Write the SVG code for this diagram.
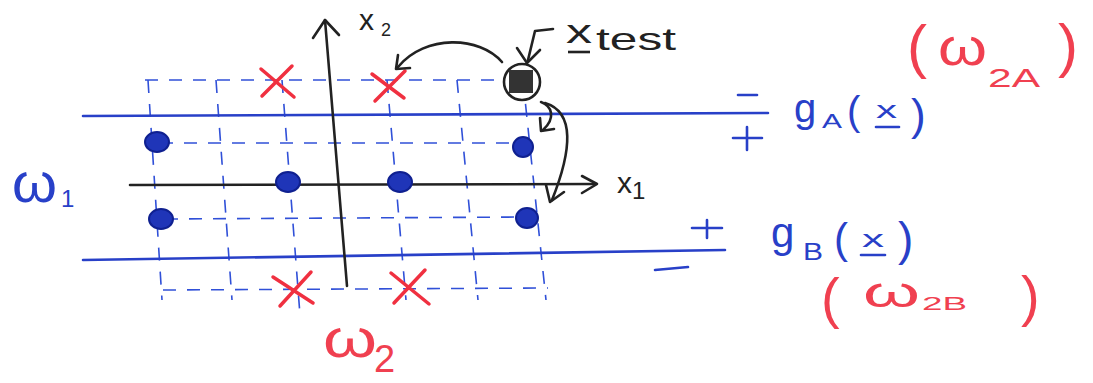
<svg xmlns="http://www.w3.org/2000/svg" width="1093" height="383" viewBox="0 0 1093 383">
<style>
.grid{stroke:#3050d8;stroke-width:1.6;stroke-dasharray:13 11;fill:none}
.bl{stroke:#2840c8;stroke-width:2.6;fill:none;stroke-linecap:round}
.ax{stroke:#222;stroke-width:2.6;fill:none;stroke-linecap:round;stroke-linejoin:round}
.dot{fill:#1f35b8;stroke:#0f2090;stroke-width:2}
.x{stroke:#f03040;stroke-width:3.5;stroke-linecap:round}
.tb{font-family:"Liberation Sans",Arial,sans-serif;fill:#2840c8}
.tr{font-family:"Liberation Sans",Arial,sans-serif;fill:#f04050}
.tk{font-family:"Liberation Sans",Arial,sans-serif;fill:#222}
</style>
<rect width="1093" height="383" fill="#ffffff"/>
<g id="grid">
<line class="grid" x1="145" y1="80" x2="505" y2="80"/>
<line class="grid" x1="160" y1="143" x2="523" y2="143"/>
<line class="grid" x1="165" y1="219" x2="527" y2="217"/>
<line class="grid" x1="163" y1="290" x2="548" y2="288"/>
<line class="grid" x1="148" y1="80" x2="162" y2="300"/>
<line class="grid" x1="216" y1="80" x2="232" y2="300"/>
<line class="grid" x1="282" y1="80" x2="300" y2="315"/>
<line class="grid" x1="387" y1="80" x2="406" y2="300"/>
<line class="grid" x1="457" y1="80" x2="478" y2="300"/>
<line class="grid" x1="523" y1="80" x2="546" y2="300"/>
</g>
<g id="boundaries">
<path class="bl" d="M83,116 L768,113"/>
<path class="bl" d="M83,260 L725,250"/>
</g>
<g id="axes">
<path class="ax" d="M130,185 L596,184"/>
<path class="ax" d="M582,176 L597,184 L582,193"/>
<path class="ax" d="M347,286 L325,20"/>
<path class="ax" d="M313,38 L325,20 L339,35"/>
</g>
<g id="class-w1">
<ellipse class="dot" cx="157" cy="142" rx="12" ry="10"/>
<ellipse class="dot" cx="523" cy="147" rx="10" ry="10"/>
<ellipse class="dot" cx="288" cy="182" rx="12" ry="10"/>
<ellipse class="dot" cx="400" cy="182" rx="12" ry="10"/>
<ellipse class="dot" cx="161" cy="219" rx="12" ry="10"/>
<ellipse class="dot" cx="527" cy="218" rx="11" ry="10"/>
</g>
<g id="class-w2">
<path class="x" d="M261,69 L294,97 M292,66 L262,96"/>
<path class="x" d="M372,74 L404,98 M405,71 L375,101"/>
<path class="x" d="M273,277 L313,303 M311,272 L280,306"/>
<path class="x" d="M391,273 L429,304 M425,270 L394,303"/>
</g>
<g id="test-point">
<circle cx="522" cy="82" r="18" fill="none" stroke="#222" stroke-width="2.6"/>
<rect x="509" y="70" width="24" height="23" fill="#333"/>
</g>
<g id="connectors">
<path class="ax" d="M502,62 C480,36 425,34 398,67"/>
<path class="ax" d="M398,55 L396,69 L410,68"/>
<path class="ax" d="M553,29 L535,31 L528,60"/>
<path class="ax" d="M517,48 L527,63 L540,50"/>
<path class="ax" d="M541,102 C552,106 556,118 543,130"/>
<path class="ax" d="M540,118 L541,131 L554,129"/>
<path class="ax" d="M545,103 C575,112 572,150 552,200"/>
<path class="ax" d="M546,185 L550,202 L564,192"/>
</g>
<g id="labels">
<text class="tk" x="359" y="30" font-size="30">x</text>
<text class="tk" x="381" y="36" font-size="18">2</text>
<text class="tk" x="617" y="193" font-size="30">x<tspan font-size="24" dy="6">1</tspan></text>
<text class="tk" x="566" y="43" font-size="34" textLength="26" lengthAdjust="spacingAndGlyphs">x</text>
<line x1="568" y1="52" x2="590" y2="52" stroke="#222" stroke-width="2.6"/>
<text class="tk" x="596" y="50" font-size="32" textLength="80" lengthAdjust="spacingAndGlyphs">test</text>
<line x1="738" y1="95" x2="757" y2="95" class="bl"/>
<path class="bl" d="M747,127 L747,150 M733,138 L762,138"/>
<text class="tb" x="794" y="122" font-size="40">g</text>
<text class="tb" x="822" y="128" font-size="21" textLength="20" lengthAdjust="spacingAndGlyphs">A</text>
<text class="tb" x="847" y="125" font-size="40">(</text>
<text class="tb" x="876" y="118" font-size="24" textLength="21" lengthAdjust="spacingAndGlyphs">x</text>
<line x1="876" y1="127" x2="899" y2="127" class="bl"/>
<text class="tb" x="911" y="130" font-size="44">)</text>
<path class="bl" d="M692,228 L722,228 M707,220 L707,238"/>
<path class="bl" d="M655,270 L688,267" stroke-width="3.5"/>
<text class="tb" x="771" y="247" font-size="42">g</text>
<text class="tb" x="803" y="260" font-size="24" textLength="20" lengthAdjust="spacingAndGlyphs">B</text>
<text class="tb" x="834" y="253" font-size="42">(</text>
<text class="tb" x="862" y="247" font-size="24" textLength="22" lengthAdjust="spacingAndGlyphs">x</text>
<line x1="861" y1="255" x2="885" y2="255" class="bl"/>
<text class="tb" x="898" y="255" font-size="46">)</text>
<text class="tr" x="907" y="67" font-size="60">(</text>
<text class="tr" x="938" y="65" font-size="52" textLength="49" lengthAdjust="spacingAndGlyphs">ω</text>
<text class="tr" x="988" y="87" font-size="26" textLength="52" lengthAdjust="spacingAndGlyphs">2A</text>
<text class="tr" x="1058" y="66" font-size="60">)</text>
<text class="tr" x="821" y="317" font-size="56">(</text>
<text class="tr" x="863" y="307" font-size="42" textLength="57" lengthAdjust="spacingAndGlyphs">ω</text>
<text class="tr" x="922" y="310" font-size="18" textLength="45" lengthAdjust="spacingAndGlyphs">2B</text>
<text class="tr" x="1021" y="315" font-size="56">)</text>
<text class="tb" x="12" y="202" font-size="56" textLength="45" lengthAdjust="spacingAndGlyphs">ω</text>
<text class="tb" x="61" y="207" font-size="24">1</text>
<text class="tr" x="323" y="357" font-size="54" textLength="54" lengthAdjust="spacingAndGlyphs">ω</text>
<text class="tr" x="374" y="372" font-size="38">2</text>
</g>
</svg>
